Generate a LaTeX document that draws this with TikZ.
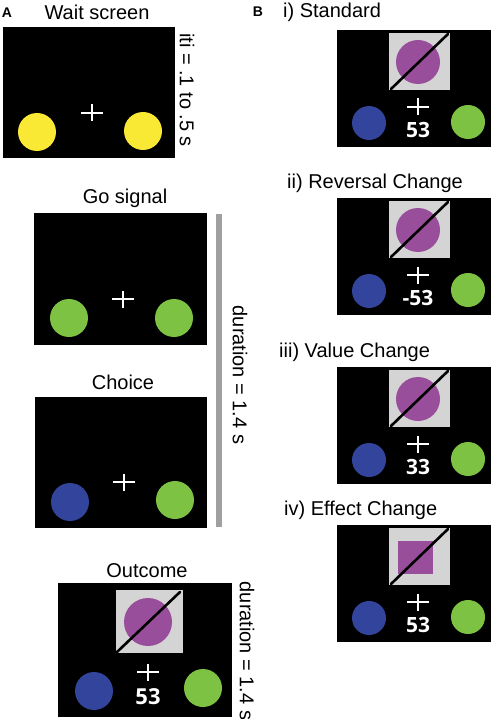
\documentclass[tikz,border=0pt]{standalone}
\usepackage{fontspec}
\setmainfont{Liberation Sans}
\newfontfamily\numfont{Open Sans}
\definecolor{dotyellow}{RGB}{249,232,52}
\definecolor{dotgreen}{RGB}{125,194,66}
\definecolor{dotblue}{RGB}{50,68,155}
\definecolor{dotpurple}{RGB}{152,78,155}
\definecolor{cuegray}{RGB}{212,212,212}
\definecolor{bargray}{RGB}{160,160,160}
\tikzset{
  screen/.style={fill=black},
  heading/.style={font=\fontsize{20}{24}\selectfont, inner sep=0pt},
  panel/.style={font=\bfseries\fontsize{14}{16}\selectfont, inner sep=0pt},
  score/.style={text=white, font=\numfont\bfseries\fontsize{21}{24}\selectfont, inner sep=0pt},
  fix/.style={draw=white, line width=2.3pt},
  slash/.style={line width=2.6pt, line cap=round},
  fixcross/.pic={\draw[fix] (-11,0) -- (11,0) (0,-8.5) -- (0,8.5);}
}
\begin{document}
\begin{tikzpicture}[x=1pt,y=-1pt]
  \useasboundingbox (0,0) rectangle (493,719);
  % A: trial sequence
  \node[panel] (labA) at (7,13) {A};
  \node[heading] (wait) at (97,12) {Wait screen};
  \fill[screen] (3,27) rectangle (175,158);
  \fill[dotyellow] (37,132) circle (19) (143,131) circle (19);
  \pic at (92,113) {fixcross};
  \node[heading, rotate=-90] (iti) at (187,90) {iti = .1 to .5 s};

  \node[heading] (go) at (125,198) {Go signal};
  \fill[screen] (34,213) rectangle (207,345);
  \fill[dotgreen] (69,318) circle (19) (174,318) circle (19);
  \pic at (123,299) {fixcross};

  \node[heading] (choice) at (123,382) {Choice};
  \fill[screen] (35,397) rectangle (207,528);
  \fill[dotblue] (70,502) circle (19);
  \fill[dotgreen] (175,500) circle (19);
  \pic at (124,482) {fixcross};

  \fill[bargray] (216,214) rectangle (222,527);
  \node[heading, rotate=-90] (dur) at (240,375) {duration = 1.4 s};

  \node[heading] (outcome) at (147,571) {Outcome};
  \fill[screen] (58,583) rectangle (232,717);
  \fill[cuegray] (116,590) rectangle (183,653);
  \fill[dotpurple] (148,622) circle (24);
  \draw[slash] (117,652) -- (180,592);
  \pic at (148,672) {fixcross};
  \node[score, font=\numfont\bfseries\fontsize{22}{24}\selectfont] (pts) at (148,697) {53};
  \fill[dotblue] (94,691) circle (19);
  \fill[dotgreen] (203,688) circle (19);
  \node[heading, rotate=-90] (dur2) at (247,651) {duration = 1.4 s};

  % B: outcome conditions
  \node[panel] (labB) at (258,12) {B};
  \foreach \top/\lx/\ly/\num/\lab [count=\i] in {30/283/12/53/{i) Standard},
      198/287/183/-53/{ii) Reversal Change}, 367/279/352/33/{iii) Value Change},
      525/284/510/53/{iv) Effect Change}} {
    \node[heading, anchor=west] (cond\i) at (\lx,\ly) {\lab};
    \fill[screen] (337,\top) rectangle (491,\top+117);
    \fill[cuegray] (389,\top+3) rectangle (450,\top+60);
    \ifnum\i<4
      \fill[dotpurple] (418,\top+32) circle (22);
    \else
      \fill[dotpurple] (398,\top+16) rectangle (433,\top+49);
    \fi
    \draw[slash] (391,\top+59) -- (448,\top+4);
    \pic at (418,\top+77) {fixcross};
    \node[score] (pts\i) at (418,\top+100) {\num};
    \fill[dotblue] (369,\top+93) circle (17);
    \fill[dotgreen] (468,\top+92) circle (17);
  }
\end{tikzpicture}
\end{document}
